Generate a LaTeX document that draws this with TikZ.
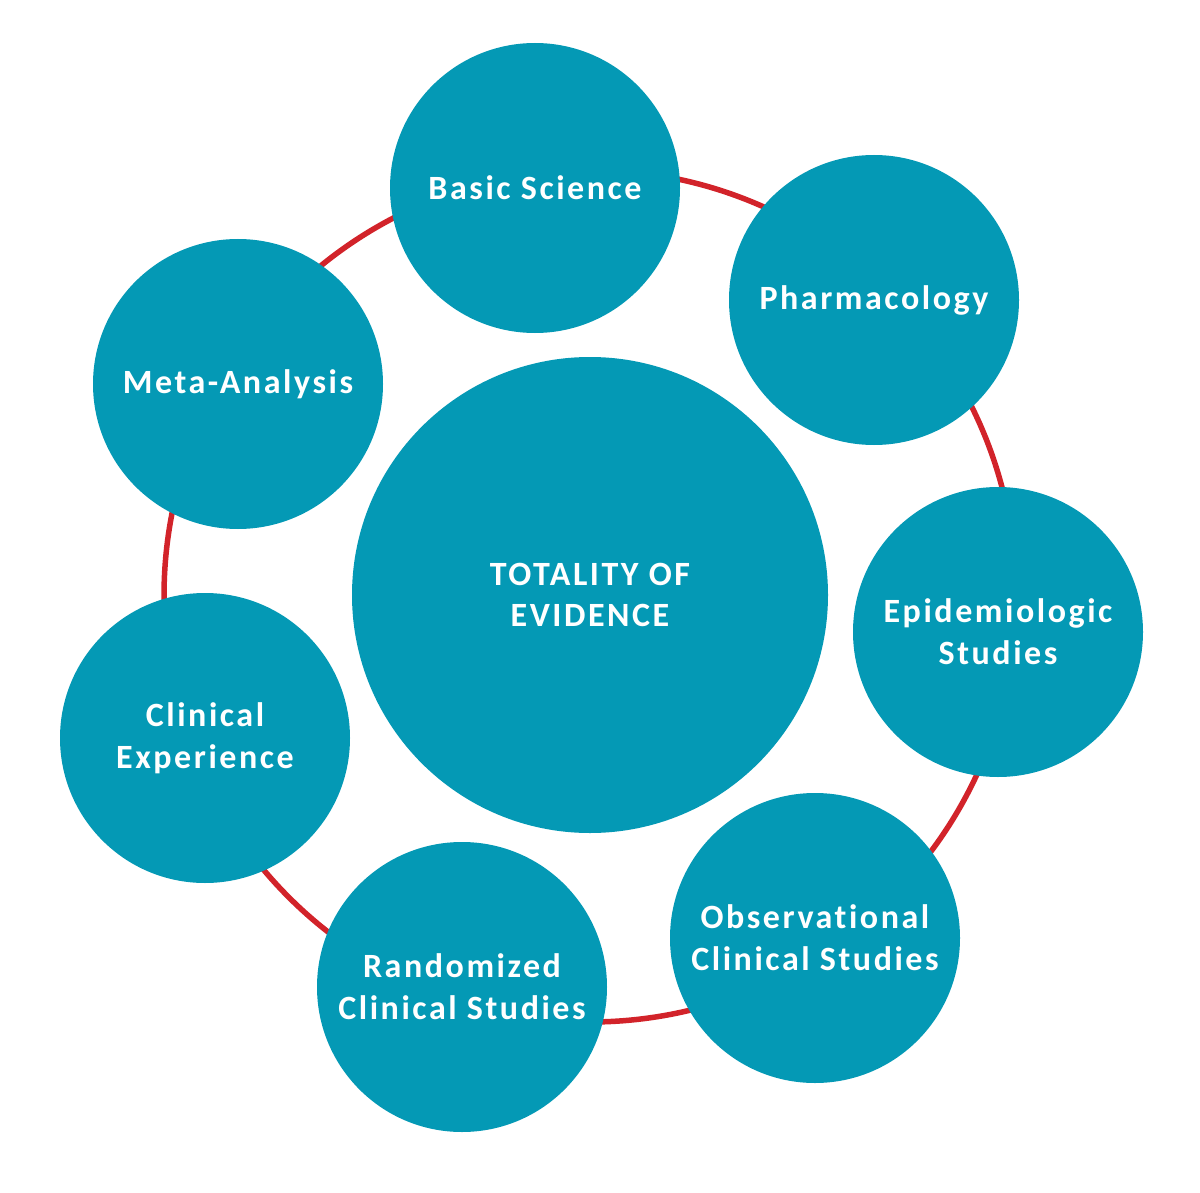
\documentclass[tikz,border=0pt]{standalone}
\usepackage{fontspec}
\setmainfont{Carlito}[Ligatures={NoCommon}, LetterSpace=7.5]
\definecolor{teal1}{HTML}{0499B5}
\definecolor{ringred}{HTML}{D2232A}
\begin{document}
\begin{tikzpicture}[x=1pt,y=-1pt,
  bubble/.style={circle, fill=teal1, draw=none, inner sep=0pt, minimum size=290pt,
    text=white, align=center, font=\fontsize{34}{41.7}\selectfont\bfseries},
  core/.style={bubble, minimum size=476pt}]
\useasboundingbox (0,0) rectangle (1200,1193);
\coordinate (ringc) at (590,596);
\draw[ringred, line width=5.5pt] (ringc) circle[radius=426pt];
\node[core] (total) at (590,595) {TOTALITY OF\\EVIDENCE};
\node[bubble] (basic) at (535,188) {Basic Science};
\node[bubble] (pharm) at (874,300) {Pharmacology};
\node[bubble] (epi) at (998,632) {Epidemiologic\\Studies};
\node[bubble] (obs) at (815,938) {Observational\\Clinical Studies};
\node[bubble] (rand) at (462,987) {Randomized\\Clinical Studies};
\node[bubble] (clin) at (205,738) {Clinical\\Experience};
\node[bubble] (meta) at (238,384) {Meta-Analysis};
\end{tikzpicture}
\end{document}
